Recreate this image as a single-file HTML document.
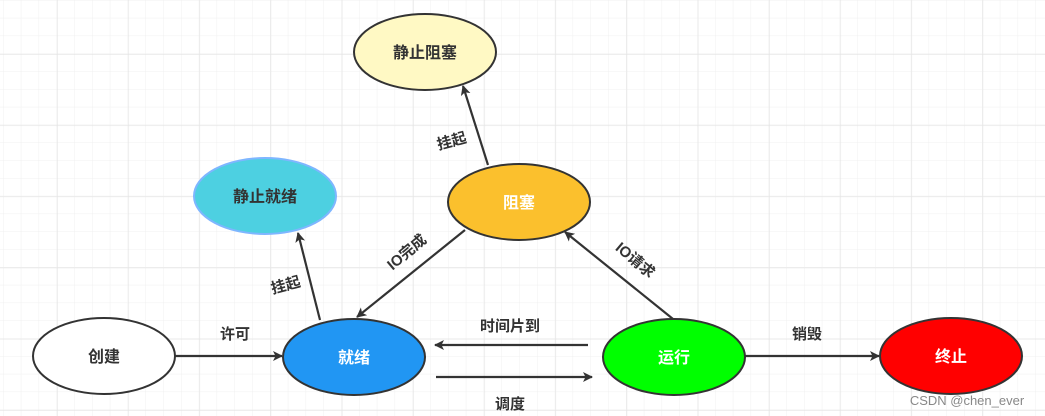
<!DOCTYPE html>
<html><head><meta charset="utf-8"><style>
html,body{margin:0;padding:0;background:#fff;}
svg{display:block;}
text{font-family:"Liberation Sans","Noto Sans CJK SC",sans-serif;font-weight:bold;}
</style></head><body>
<svg width="1045" height="416" viewBox="0 0 1045 416" xmlns="http://www.w3.org/2000/svg">
<defs>
<pattern id="minor" width="17.8" height="17.8" patternUnits="userSpaceOnUse" x="3" y="0">
<path d="M0 0H17.8M0 0V17.8" stroke="#f0f0f0" stroke-width="1" fill="none"/>
</pattern>
<pattern id="major" width="71.2" height="71.2" patternUnits="userSpaceOnUse" x="57" y="54">
<path d="M0 0H71.2M0 0V71.2" stroke="#e4e4e4" stroke-width="1.2" fill="none"/>
</pattern>
<marker id="a" markerWidth="10" markerHeight="10" refX="9" refY="5" orient="auto" markerUnits="userSpaceOnUse">
<path d="M0 0L10 5L0 10L2.5 5Z" fill="#333"/>
</marker>
</defs>
<rect width="1045" height="416" fill="url(#minor)"/>
<rect width="1045" height="416" fill="url(#major)"/>
<g stroke="#333" stroke-width="2.2" fill="none" marker-end="url(#a)">
<line x1="175" y1="356" x2="282" y2="356"/>
<line x1="320" y1="320" x2="298" y2="233"/>
<line x1="488" y1="165" x2="463" y2="86"/>
<line x1="465" y1="230" x2="357" y2="317"/>
<line x1="673" y1="319" x2="565" y2="232"/>
<line x1="588" y1="345" x2="435" y2="345"/>
<line x1="436" y1="377" x2="592" y2="377"/>
<line x1="745" y1="356" x2="879" y2="356"/>
</g>
<g stroke="#333" stroke-width="2">
<ellipse cx="104" cy="356" rx="71" ry="38" fill="#fff"/>
<ellipse cx="354" cy="357" rx="71" ry="38" fill="#2196f3"/>
<ellipse cx="674" cy="357" rx="71" ry="38" fill="#00ff00"/>
<ellipse cx="951" cy="356" rx="71" ry="38" fill="#ff0000"/>
<ellipse cx="519" cy="202" rx="71" ry="38" fill="#fbc02d"/>
<ellipse cx="425" cy="52" rx="71" ry="38" fill="#fff9c4"/>
<ellipse cx="265" cy="196" rx="71" ry="38" fill="#4dd0e1" stroke="#7eb6ff"/>
</g>
<g font-size="16" text-anchor="middle">
<text x="104" y="362" fill="#333">创建</text>
<text x="354" y="363" fill="#fff">就绪</text>
<text x="674" y="363" fill="#fff">运行</text>
<text x="951" y="362" fill="#fff">终止</text>
<text x="519" y="208" fill="#fff">阻塞</text>
<text x="425" y="58" fill="#333">静止阻塞</text>
<text x="265" y="202" fill="#333">静止就绪</text>
</g>
<g font-size="15" text-anchor="middle" fill="#333">
<text x="235" y="339">许可</text>
<text x="510" y="331">时间片到</text>
<text x="510" y="409">调度</text>
<text x="807" y="339">销毁</text>
<text transform="translate(287,290) rotate(-15)">挂起</text>
<text transform="translate(453,146) rotate(-15)">挂起</text>
<text transform="translate(410,256) rotate(-40)">IO完成</text>
<text transform="translate(632,264) rotate(40)">IO请求</text>
</g>
<text x="967" y="405" font-size="13" text-anchor="middle" fill="#888" style="font-weight:normal">CSDN @chen_ever</text>
</svg>
</body></html>
